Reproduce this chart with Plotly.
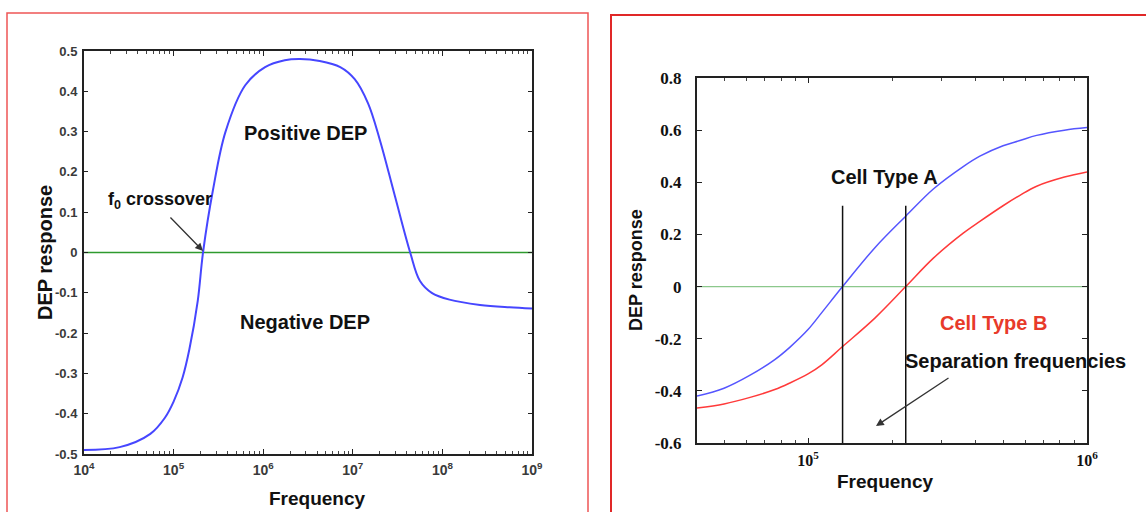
import plotly.graph_objects as go

W, H = 1146, 512

# ---------------- data ----------------
left_freq = [1e4, 2.5e4, 5.5e4, 8e4, 1e5, 1.26e5, 1.5e5, 1.86e5, 2.13e5, 2.75e5, 3.8e5,
             6.3e5, 1.05e6, 1.74e6, 2.57e6, 4.27e6, 7.24e6, 1.05e7, 1.48e7, 2.0e7,
             2.95e7, 4.37e7, 5.6e7, 7.6e7, 1.2e8, 2.63e8, 5.6e8, 1e9]
left_dep = [-0.49, -0.483, -0.45, -0.41, -0.37, -0.31, -0.24, -0.12, 0.0, 0.155, 0.30,
            0.415, 0.46, 0.477, 0.48, 0.475, 0.46, 0.43, 0.37, 0.28,
            0.14, 0.0, -0.07, -0.10, -0.117, -0.13, -0.136, -0.139]
left_xtick_vals = [1e4, 1e5, 1e6, 1e7, 1e8, 1e9]
left_xtick_text = ["10<sup>4</sup>", "10<sup>5</sup>", "10<sup>6</sup>",
                   "10<sup>7</sup>", "10<sup>8</sup>", "10<sup>9</sup>"]
left_ytick_vals = [0.5, 0.4, 0.3, 0.2, 0.1, 0, -0.1, -0.2, -0.3, -0.4, -0.5]
left_ytick_text = ["0.5", "0.4", "0.3", "0.2", "0.1", "0", "-0.1", "-0.2", "-0.3", "-0.4", "-0.5"]

right_freq = [4.0e4, 5.0e4, 6.2e4, 7.6e4, 8.6e4, 1e5, 1.12e5, 1.33e5, 1.74e5, 2.24e5,
              2.82e5, 3.6e5, 4.13e5, 5.0e5, 5.75e5, 6.6e5, 8.3e5, 1e6]
cell_a = [-0.42, -0.39, -0.34, -0.28, -0.233, -0.165, -0.10, 0.0, 0.15, 0.27,
          0.375, 0.46, 0.50, 0.54, 0.56, 0.58, 0.60, 0.61]
cell_b = [-0.466, -0.45, -0.425, -0.395, -0.37, -0.335, -0.30, -0.23, -0.12, 0.0,
          0.11, 0.205, 0.25, 0.31, 0.35, 0.385, 0.42, 0.44]
separation_freqs = [1.33e5, 2.24e5]
separation_top = 0.31
right_xtick_vals = [1e5, 1e6]
right_xtick_text = ["10<sup>5</sup>", "10<sup>6</sup>"]
right_ytick_vals = [0.8, 0.6, 0.4, 0.2, 0, -0.2, -0.4, -0.6]
right_ytick_text = ["0.8", "0.6", "0.4", "0.2", "0", "-0.2", "-0.4", "-0.6"]

# minor tick positions (log decades, 2..9)
left_minor = [m * 10 ** e for e in range(4, 9) for m in range(2, 10)]
right_minor = [m * 10 ** e for e in range(4, 6) for m in range(2, 10) if 4e4 <= m * 10 ** e <= 1e6]

# ---------------- layout helpers ----------------
def px_x(x):
    return x / W

def px_y(y):
    return 1 - y / H

L_X0, L_X1, L_Y0, L_Y1 = 84, 532, 51, 454
R_X0, R_X1, R_Y0, R_Y1 = 697, 1087, 78, 443

fig = go.Figure()

# left panel
fig.add_trace(go.Scatter(x=[1e4, 1e9], y=[0, 0], mode="lines",
                         line=dict(color="#2e9a2e", width=1.5),
                         xaxis="x", yaxis="y", showlegend=False, hoverinfo="skip"))
fig.add_trace(go.Scatter(x=left_freq, y=left_dep, mode="lines", line_shape="spline",
                         line=dict(color="#4646ff", width=2),
                         xaxis="x", yaxis="y", showlegend=False, name="DEP response"))

# right panel
fig.add_trace(go.Scatter(x=[4e4, 1e6], y=[0, 0], mode="lines",
                         line=dict(color="#8cc88c", width=1.2),
                         xaxis="x2", yaxis="y2", showlegend=False, hoverinfo="skip"))
fig.add_trace(go.Scatter(x=right_freq, y=cell_a, mode="lines", line_shape="spline",
                         line=dict(color="#5555ff", width=1.5),
                         xaxis="x2", yaxis="y2", showlegend=False, name="Cell Type A"))
fig.add_trace(go.Scatter(x=right_freq, y=cell_b, mode="lines", line_shape="spline",
                         line=dict(color="#ff3a3a", width=1.5),
                         xaxis="x2", yaxis="y2", showlegend=False, name="Cell Type B"))
for f in separation_freqs:
    fig.add_trace(go.Scatter(x=[f, f], y=[-0.6, separation_top], mode="lines",
                             line=dict(color="#111111", width=1.5),
                             xaxis="x2", yaxis="y2", showlegend=False, hoverinfo="skip"))

axis_line = dict(showline=True, linecolor="#222222", linewidth=2, mirror="ticks",
                 showgrid=False, zeroline=False, automargin=False)

left_tickfont = dict(family="Liberation Sans, Arial", size=13, color="#3a3a3a", weight="bold")
left_xtickfont = dict(family="Liberation Sans, Arial", size=14, color="#3a3a3a", weight="bold")
right_tickfont = dict(family="Liberation Serif, Times New Roman", size=17, color="#111111",
                      weight="bold")
right_xtickfont = dict(family="Liberation Serif, Times New Roman", size=16, color="#111111",
                       weight="bold")

fig.update_layout(
    width=W, height=H,
    margin=dict(l=0, r=0, t=0, b=0, autoexpand=False),
    paper_bgcolor="white", plot_bgcolor="white",
    xaxis=dict(domain=[px_x(L_X0), px_x(L_X1)], anchor="y", type="log",
               range=[4, 9], tickvals=left_xtick_vals, ticktext=left_xtick_text,
               ticks="inside", ticklen=5, tickcolor="#222222", ticklabelstandoff=2,
               minor=dict(ticks="inside", ticklen=3, tickcolor="#444444", showgrid=False,
                          tickmode="array", tickvals=left_minor),
               tickfont=left_xtickfont, **axis_line),
    yaxis=dict(domain=[px_y(L_Y1), px_y(L_Y0)], anchor="x",
               range=[-0.5, 0.5], tickvals=left_ytick_vals, ticktext=left_ytick_text,
               ticks="inside", ticklen=4, tickcolor="#222222", ticklabelstandoff=2,
               tickfont=left_tickfont, **axis_line),
    xaxis2=dict(domain=[px_x(R_X0), px_x(R_X1)], anchor="y2", type="log",
                range=[4.602, 6], tickvals=right_xtick_vals, ticktext=right_xtick_text,
                ticks="inside", ticklen=5, tickcolor="#222222", ticklabelstandoff=2,
                minor=dict(ticks="inside", ticklen=3, tickcolor="#444444", showgrid=False,
                           tickmode="array", tickvals=right_minor),
                tickfont=right_xtickfont, **axis_line),
    yaxis2=dict(domain=[px_y(R_Y1), px_y(R_Y0)], anchor="x2",
                range=[-0.6, 0.8], tickvals=right_ytick_vals, ticktext=right_ytick_text,
                ticks="inside", ticklen=5, tickcolor="#222222", ticklabelstandoff=10,
                tickfont=right_tickfont, **axis_line),
)

# red panel frames
fig.add_shape(type="rect", xref="paper", yref="paper",
              x0=px_x(7), x1=px_x(588), y0=px_y(530), y1=px_y(13),
              line=dict(color="#ee5555", width=1.5), layer="above")
fig.add_shape(type="rect", xref="paper", yref="paper",
              x0=px_x(611), x1=px_x(1160), y0=px_y(530), y1=px_y(15),
              line=dict(color="#e02828", width=2), layer="above")

ann_font = dict(family="Liberation Sans, Arial", size=20, color="#111111", weight="bold")
title_font = dict(family="Liberation Sans, Arial", size=19, color="#111111", weight="bold")

def text_at(x, y, text, font, angle=0):
    return dict(xref="paper", yref="paper", x=px_x(x), y=px_y(y), text=text,
                showarrow=False, font=font, textangle=angle,
                xanchor="center", yanchor="middle")

annotations = [
    # axis titles
    text_at(317, 498, "Frequency", title_font),
    text_at(45, 253, "DEP response", dict(title_font, size=20), angle=-90),
    text_at(885, 481, "Frequency", title_font),
    text_at(636, 270, "DEP response", dict(title_font, size=18), angle=-90),
    # labels
    text_at(305, 133, "Positive DEP", ann_font),
    text_at(305, 322, "Negative DEP", ann_font),
    text_at(160, 200, "f<sub>0</sub> crossover", dict(ann_font, size=18)),
    dict(xref="paper", yref="paper", x=px_x(203), y=px_y(251), ax=-34, ay=-35,
         axref="pixel", ayref="pixel", text="", showarrow=True, arrowhead=2,
         arrowsize=1.2, arrowwidth=1.3, arrowcolor="#333333"),
    text_at(884, 177, "Cell Type A", ann_font),
    text_at(993, 323, "Cell Type B", dict(ann_font, color="#e83a2a")),
    text_at(1015, 361, "Separation frequencies", ann_font),
    dict(xref="paper", yref="paper", x=px_x(876), y=px_y(426), ax=74, ay=-49,
         axref="pixel", ayref="pixel", text="", showarrow=True, arrowhead=2,
         arrowsize=1.2, arrowwidth=1.3, arrowcolor="#333333"),
]
fig.update_layout(annotations=annotations)

fig.write_html("out.html", config={"displayModeBar": False},
               post_script="document.body.style.margin='0px';document.body.style.overflow='hidden';")
